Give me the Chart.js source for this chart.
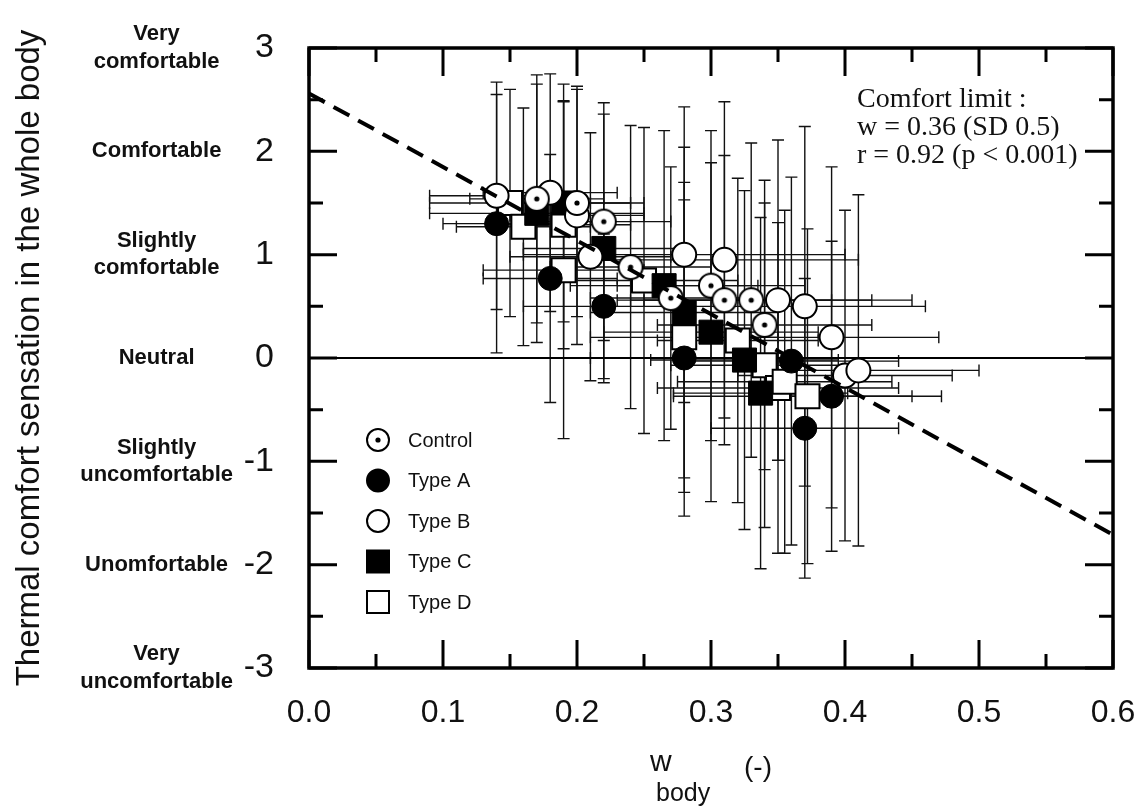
<!DOCTYPE html>
<html>
<head>
<meta charset="utf-8">
<title>Thermal comfort sensation vs w_body</title>
<script src="https://cdn.jsdelivr.net/npm/chart.js@4.4.0/dist/chart.umd.min.js"></script>
<style>
    html, body { margin: 0; padding: 0; background: #fff; }
    #wrap { width: 1144px; height: 812px; }
</style>
</head>
<body>
<div id="wrap"><canvas id="chart" width="1144" height="812"></canvas></div>
<script>
(() => {
    "use strict";

    // ====== Data ======
    // Control (open circle with dot)
    const controlX = [0.17, 0.20, 0.22, 0.24, 0.27, 0.30, 0.31, 0.33, 0.34];
    const controlY = [1.54, 1.50, 1.32, 0.88, 0.58, 0.70, 0.56, 0.56, 0.32];
    const controlErrX = [0.05, 0.05, 0.05, 0.06, 0.06, 0.07, 0.08, 0.09, 0.08];
    const controlErrY = [1.20, 1.10, 1.15, 1.37, 1.27, 1.50, 1.40, 1.52, 1.40];

    // Type A (filled circle)
    const typeAX = [0.14, 0.18, 0.22, 0.28, 0.36, 0.39, 0.37];
    const typeAY = [1.30, 0.77, 0.50, 0.00, -0.03, -0.37, -0.68];
    const typeAErrX = [0.04, 0.05, 0.06, 0.07, 0.08, 0.06, 0.07];
    const typeAErrY = [1.25, 1.20, 0.70, 1.53, 1.78, 1.50, 1.45];

    // Type B (open circle)
    const typeBX = [0.14, 0.18, 0.20, 0.21, 0.28, 0.31, 0.35, 0.37, 0.39, 0.40, 0.41];
    const typeBY = [1.57, 1.60, 1.38, 0.98, 1.00, 0.95, 0.56, 0.50, 0.20, -0.17, -0.12];
    const typeBErrX = [0.05, 0.05, 0.05, 0.06, 0.12, 0.10, 0.10, 0.09, 0.08, 0.08, 0.09];
    const typeBErrY = [1.10, 1.15, 1.25, 1.20, 1.43, 1.53, 1.55, 1.74, 1.65, 1.60, 1.70];

    // Type C (filled square)
    const typeCX = [0.17, 0.19, 0.22, 0.265, 0.28, 0.30, 0.325, 0.337];
    const typeCY = [1.40, 1.50, 1.06, 0.70, 0.44, 0.25, -0.02, -0.34];
    const typeCErrX = [0.08, 0.05, 0.06, 0.07, 0.07, 0.08, 0.07, 0.065];
    const typeCErrY = [1.25, 1.15, 1.30, 1.50, 1.60, 1.64, 1.64, 1.70];

    // Type D (open square)
    const typeDX = [0.15, 0.16, 0.19, 0.19, 0.25, 0.28, 0.32, 0.34, 0.35, 0.355, 0.372];
    const typeDY = [1.50, 1.27, 1.29, 0.85, 0.75, 0.20, 0.17, -0.07, -0.29, -0.23, -0.37];
    const typeDErrX = [0.06, 0.05, 0.05, 0.06, 0.07, 0.07, 0.06, 0.07, 0.09, 0.08, 0.10];
    const typeDErrY = [1.10, 1.15, 1.20, 1.63, 1.48, 1.50, 1.57, 1.57, 1.60, 1.66, 1.62];

    // Regression line end points and neutral line
    const fitLineX = [0.0, 0.6];
    const fitLineY = [2.56, -1.71];
    const neutralLineX = [0.0, 0.6];
    const neutralLineY = [0, 0];

    // Axis labels
    const yTickValues = [3, 2, 1, 0, -1, -2, -3];
    const yTickWords = [
        ["Very", "comfortable"],
        "Comfortable",
        ["Slightly", "comfortable"],
        "Neutral",
        ["Slightly", "uncomfortable"],
        "Unomfortable",
        ["Very", "uncomfortable"]
    ];
    const legendNames = ["Control", "Type A", "Type B", "Type C", "Type D"];
    const noteLines = ["Comfort limit :", "w = 0.36 (SD 0.5)", "r = 0.92 (p < 0.001)"];
    const yTitle = "Thermal comfort sensation in the whole body";

    // ====== Helpers ======
    const SANS = "'Liberation Sans', Arial, Helvetica, sans-serif";
    const SERIF = "'Liberation Serif', 'Times New Roman', serif";

    const toPoints = (xs, ys) => xs.map((x, i) => ({ x, y: ys[i] }));

    function makeControlMarker(r) {
        const c = document.createElement("canvas");
        const s = Math.ceil(r * 2 + 4);
        c.width = s;
        c.height = s;
        const g = c.getContext("2d");
        g.beginPath();
        g.arc(s / 2, s / 2, r, 0, Math.PI * 2);
        g.fillStyle = "#fff";
        g.fill();
        g.lineWidth = 2;
        g.strokeStyle = "#000";
        g.stroke();
        g.beginPath();
        g.arc(s / 2, s / 2, 2.6, 0, Math.PI * 2);
        g.fillStyle = "#000";
        g.fill();
        return c;
    }
    const controlMarker = makeControlMarker(12);

    function markerSet(label, xs, ys, ex, ey, style, filled, order) {
        const isRect = style === "rect";
        return {
            label,
            data: toPoints(xs, ys),
            errX: ex,
            errY: ey,
            pointStyle: style,
            pointRadius: isRect ? 17 : 12,
            pointHoverRadius: isRect ? 17 : 12,
            backgroundColor: filled ? "#000" : "#fff",
            borderColor: "#000",
            borderWidth: filled ? 1 : 2,
            showLine: false,
            order
        };
    }

    // ====== Plugins ======
    const errorBars = {
        id: "errorBars",
        beforeDatasetsDraw(chart) {
            const { ctx, scales: { x, y } } = chart;
            const cap = 6;
            ctx.save();
            ctx.strokeStyle = "#111";
            ctx.lineWidth = 1.4;
            chart.data.datasets.forEach((ds) => {
                if (!ds.errY) return;
                ds.data.forEach((p, i) => {
                    const px = x.getPixelForValue(p.x);
                    const py = y.getPixelForValue(p.y);
                    const y1 = y.getPixelForValue(p.y + ds.errY[i]);
                    const y2 = y.getPixelForValue(p.y - ds.errY[i]);
                    const x1 = x.getPixelForValue(p.x - ds.errX[i]);
                    const x2 = x.getPixelForValue(p.x + ds.errX[i]);
                    ctx.beginPath();
                    ctx.moveTo(px, y1); ctx.lineTo(px, y2);
                    ctx.moveTo(px - cap, y1); ctx.lineTo(px + cap, y1);
                    ctx.moveTo(px - cap, y2); ctx.lineTo(px + cap, y2);
                    ctx.moveTo(x1, py); ctx.lineTo(x2, py);
                    ctx.moveTo(x1, py - cap); ctx.lineTo(x1, py + cap);
                    ctx.moveTo(x2, py - cap); ctx.lineTo(x2, py + cap);
                    ctx.stroke();
                });
            });
            ctx.restore();
        }
    };

    const frameAndNotes = {
        id: "frameAndNotes",
        afterDraw(chart) {
            const { ctx, chartArea: a, scales: { x, y } } = chart;
            ctx.save();

            // inward ticks
            ctx.strokeStyle = "#000";
            ctx.lineWidth = 3;
            ctx.beginPath();
            for (let k = 0; k <= 12; k++) {
                const px = x.getPixelForValue(k * 0.05);
                const len = k % 2 === 0 ? 28 : 14;
                ctx.moveTo(px, a.bottom); ctx.lineTo(px, a.bottom - len);
                ctx.moveTo(px, a.top); ctx.lineTo(px, a.top + len);
            }
            for (let k = 0; k <= 12; k++) {
                const py = y.getPixelForValue(-3 + k * 0.5);
                const len = k % 2 === 0 ? 28 : 14;
                ctx.moveTo(a.left, py); ctx.lineTo(a.left + len, py);
                ctx.moveTo(a.right, py); ctx.lineTo(a.right - len, py);
            }
            ctx.stroke();

            // frame
            ctx.lineWidth = 3.5;
            ctx.strokeRect(a.left, a.top, a.right - a.left, a.bottom - a.top);

            // comfort limit note
            ctx.fillStyle = "#111";
            ctx.font = "28px " + SERIF;
            ctx.textAlign = "left";
            ctx.textBaseline = "middle";
            noteLines.forEach((t, i) => ctx.fillText(t, 857, 100 + i * 28));

            // legend
            const lx = 378;
            const ly = 440;
            const step = 40.5;
            legendNames.forEach((name, i) => {
                const cy = ly + i * step;
                ctx.lineWidth = 2;
                ctx.strokeStyle = "#000";
                ctx.fillStyle = "#fff";
                if (i <= 2) {
                    ctx.beginPath();
                    ctx.arc(lx, cy, 11, 0, Math.PI * 2);
                    ctx.fillStyle = i === 1 ? "#000" : "#fff";
                    ctx.fill();
                    ctx.stroke();
                    if (i === 0) {
                        ctx.beginPath();
                        ctx.arc(lx, cy, 2.6, 0, Math.PI * 2);
                        ctx.fillStyle = "#000";
                        ctx.fill();
                    }
                } else {
                    ctx.fillStyle = i === 3 ? "#000" : "#fff";
                    ctx.fillRect(lx - 11, cy - 11, 22, 22);
                    ctx.strokeRect(lx - 11, cy - 11, 22, 22);
                }
                ctx.fillStyle = "#111";
                ctx.font = "20px " + SANS;
                ctx.fillText(name, 408, cy + 1);
            });

            // x axis title: w_body (-)
            ctx.fillStyle = "#111";
            ctx.textBaseline = "alphabetic";
            ctx.font = "30px " + SANS;
            ctx.fillText("w", 650, 771);
            ctx.font = "25px " + SANS;
            ctx.fillText("body", 656, 801);
            ctx.font = "28px " + SANS;
            ctx.fillText("(-)", 744, 776);

            ctx.restore();
        }
    };

    // ====== Chart ======
    const datasets = [
        {
            type: "line",
            label: "fit",
            data: toPoints(fitLineX, fitLineY),
            borderColor: "#000",
            borderWidth: 4,
            borderDash: [18, 10],
            pointRadius: 0,
            fill: false,
            order: 0
        },
        markerSet("Control", controlX, controlY, controlErrX, controlErrY, controlMarker, false, 1),
        markerSet("Type A", typeAX, typeAY, typeAErrX, typeAErrY, "circle", true, 3),
        markerSet("Type B", typeBX, typeBY, typeBErrX, typeBErrY, "circle", false, 2),
        markerSet("Type C", typeCX, typeCY, typeCErrX, typeCErrY, "rect", true, 4),
        markerSet("Type D", typeDX, typeDY, typeDErrX, typeDErrY, "rect", false, 5),
        {
            type: "line",
            label: "neutral",
            data: toPoints(neutralLineX, neutralLineY),
            borderColor: "#000",
            borderWidth: 2,
            pointRadius: 0,
            fill: false,
            order: 10
        }
    ];

    new Chart(document.getElementById("chart").getContext("2d"), {
        type: "scatter",
        data: { datasets },
        options: {
            responsive: false,
            animation: false,
            devicePixelRatio: 1,
            layout: { padding: { top: 48, right: 31, left: 0, bottom: 0 } },
            plugins: {
                legend: { display: false },
                tooltip: { enabled: false }
            },
            scales: {
                x: {
                    type: "linear",
                    min: 0,
                    max: 0.6,
                    grid: { display: false, drawTicks: false },
                    border: { display: false },
                    ticks: {
                        stepSize: 0.1,
                        padding: 26,
                        color: "#111",
                        font: { size: 32, family: SANS },
                        callback: (v) => Number(v).toFixed(1)
                    },
                    afterFit: (s) => {
                        s.height = 144;
                        s.paddingLeft = 0;
                        s.paddingRight = 0;
                    }
                },
                y: {
                    type: "linear",
                    position: "left",
                    min: -3,
                    max: 3,
                    weight: 0,
                    grid: { display: false, drawTicks: false },
                    border: { display: false },
                    ticks: {
                        stepSize: 1,
                        padding: 35,
                        color: "#111",
                        font: { size: 34, family: SANS },
                        callback: (v) => String(v)
                    },
                    afterFit: (s) => {
                        s.width = 76;
                        s.paddingTop = 0;
                        s.paddingBottom = 0;
                    }
                },
                yWords: {
                    type: "linear",
                    position: "left",
                    min: -3,
                    max: 3,
                    weight: 1,
                    grid: { display: false, drawTicks: false },
                    border: { display: false },
                    ticks: {
                        stepSize: 1,
                        crossAlign: "center",
                        padding: 0,
                        color: "#111",
                        font: { size: 22, weight: "bold", family: SANS, lineHeight: 1.25 },
                        callback: (v) => {
                            const idx = yTickValues.indexOf(Math.round(v));
                            return idx >= 0 ? yTickWords[idx] : "";
                        }
                    },
                    title: {
                        display: true,
                        text: yTitle,
                        color: "#111",
                        font: { size: 33, family: SANS },
                        padding: { top: 10, bottom: 0 }
                    },
                    afterFit: (s) => {
                        s.width = 233;
                        s.paddingTop = 0;
                        s.paddingBottom = 0;
                    }
                }
            }
        },
        plugins: [errorBars, frameAndNotes]
    });
})();
</script>
</body>
</html>
